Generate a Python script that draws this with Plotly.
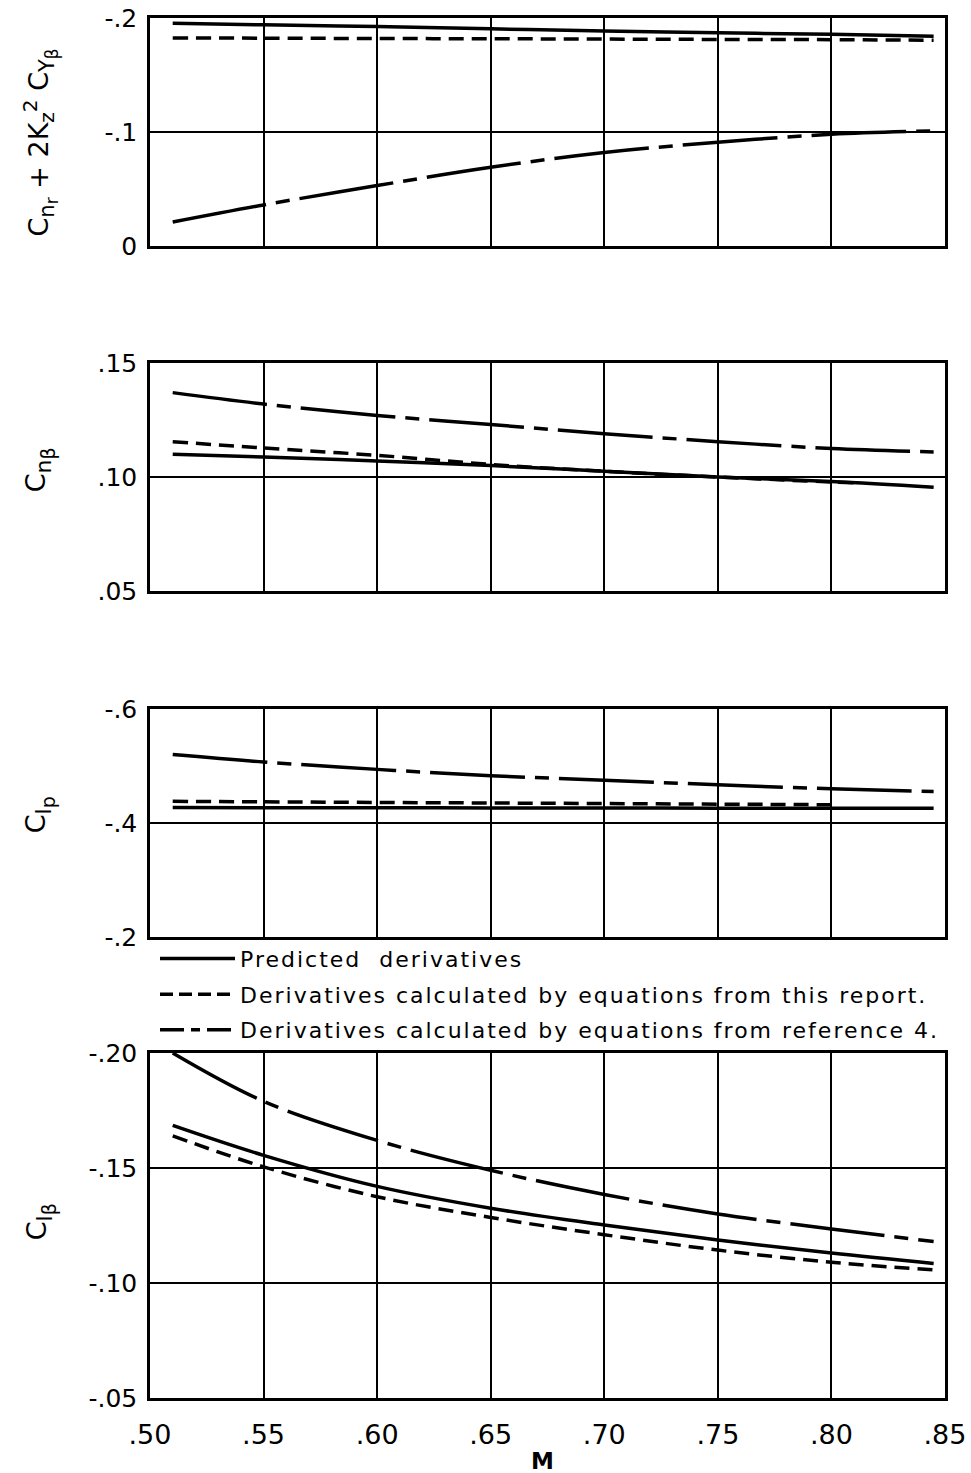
import plotly.graph_objects as go

# Mach number stations along each curve
M = [0.51, 0.55, 0.60, 0.65, 0.70, 0.75, 0.80, 0.845]
M_nb_this = [0.51, 0.55, 0.60, 0.65, 0.70, 0.75, 0.80, 0.81]
M_lp_this = [0.51, 0.55, 0.60, 0.65, 0.70, 0.75, 0.80]

# Cn_r + 2 Kz^2 CY_beta
cnr_pred = [-0.1955, -0.194, -0.1925, -0.1905, -0.1885, -0.187, -0.1857, -0.184]
cnr_this = [-0.1825, -0.1823, -0.182, -0.1818, -0.1815, -0.1812, -0.181, -0.1805]
cnr_ref4 = [-0.021, -0.036, -0.053, -0.069, -0.082, -0.091, -0.098, -0.101]

# Cn_beta
cnb_pred = [0.110, 0.1088, 0.107, 0.105, 0.1025, 0.100, 0.098, 0.0955]
cnb_this = [0.1155, 0.1127, 0.1095, 0.1055, 0.1025, 0.100, 0.0978, 0.0975]
cnb_ref4 = [0.137, 0.132, 0.127, 0.123, 0.119, 0.1155, 0.1125, 0.111]

# Cl_p
clp_pred = [-0.427, -0.4268, -0.4266, -0.4264, -0.4262, -0.426, -0.426, -0.426]
clp_this = [-0.438, -0.437, -0.436, -0.435, -0.434, -0.433, -0.432]
clp_ref4 = [-0.520, -0.507, -0.494, -0.483, -0.475, -0.467, -0.460, -0.455]

# Cl_beta
clb_pred = [-0.1685, -0.1555, -0.142, -0.1325, -0.1252, -0.1187, -0.113, -0.1085]
clb_this = [-0.164, -0.1505, -0.1375, -0.1285, -0.121, -0.1143, -0.109, -0.1057]
clb_ref4 = [-0.200, -0.179, -0.162, -0.149, -0.1385, -0.130, -0.1235, -0.118]

x_ticks = [0.50, 0.55, 0.60, 0.65, 0.70, 0.75, 0.80, 0.85]
x_ticktext = [".50", ".55", ".60", ".65", ".70", ".75", ".80", ".85"]

series_names = [
    "Predicted  derivatives",
    "Derivatives calculated by equations from this report.",
    "Derivatives calculated by equations from reference 4.",
]

FONT = "DejaVu Sans"
LW = 3.5
DASH_THIS = "15px,8px"
DASH_REF4 = "95px,10px,14px,10px"

fig = go.Figure()

panels = [
    ("x", "y", (M, cnr_pred), (M, cnr_this), (M, cnr_ref4)),
    ("x2", "y2", (M, cnb_pred), (M_nb_this, cnb_this), (M, cnb_ref4)),
    ("x3", "y3", (M, clp_pred), (M_lp_this, clp_this), (M, clp_ref4)),
    ("x4", "y4", (M, clb_pred), (M, clb_this), (M, clb_ref4)),
]

for xa, ya, pred, this, ref4 in panels:
    fig.add_trace(go.Scatter(x=pred[0], y=pred[1], xaxis=xa, yaxis=ya, mode="lines",
                             line=dict(color="black", width=LW, shape="spline"),
                             legendgroup="pred", showlegend=False))
    fig.add_trace(go.Scatter(x=this[0], y=this[1], xaxis=xa, yaxis=ya, mode="lines",
                             line=dict(color="black", width=LW, dash=DASH_THIS, shape="spline"),
                             legendgroup="this", showlegend=False))
    fig.add_trace(go.Scatter(x=ref4[0], y=ref4[1], xaxis=xa, yaxis=ya, mode="lines",
                             line=dict(color="black", width=LW, dash=DASH_REF4, shape="spline"),
                             legendgroup="ref4", showlegend=False))

# legend keys
legend_dashes = ["solid", "13px,6px", "24px,7px,9px,7px"]
for name, dash, grp in zip(series_names, legend_dashes, ["pred", "this", "ref4"]):
    fig.add_trace(go.Scatter(x=[None], y=[None], mode="lines",
                             name="<span style='letter-spacing:2px'>" + name + "</span>",
                             line=dict(color="black", width=LW, dash=dash),
                             legendgroup=grp, showlegend=True))

# plot area in pixels: x 150..945, y 18..1398 (1380 px tall)
domains = {
    "y": [0.8348, 1.0],
    "y2": [0.5848, 0.75],
    "y3": [0.3341, 0.4993],
    "y4": [0.0, 0.25],
}
y_axes = {
    "y": dict(range=[0, -0.2], tickvals=[-0.2, -0.1, 0], ticktext=["-.2", "-.1", "0"]),
    "y2": dict(range=[0.05, 0.15], tickvals=[0.05, 0.10, 0.15], ticktext=[".05", ".10", ".15"]),
    "y3": dict(range=[-0.2, -0.6], tickvals=[-0.6, -0.4, -0.2], ticktext=["-.6", "-.4", "-.2"]),
    "y4": dict(range=[-0.05, -0.20], tickvals=[-0.20, -0.15, -0.10, -0.05],
               ticktext=["-.20", "-.15", "-.10", "-.05"]),
}

axis_common = dict(showline=True, mirror=True, linecolor="black", linewidth=2.5,
                   showgrid=True, gridcolor="black", zeroline=False, ticks="",
                   automargin=False)

layout = dict(
    width=971, height=1473, autosize=False,
    margin=dict(l=150, r=26, t=18, b=75, autoexpand=False),
    paper_bgcolor="white", plot_bgcolor="white",
    font=dict(family=FONT, color="black"),
    showlegend=True,
    legend=dict(x=0.0063, y=0.3335, xanchor="left", yanchor="top",
                font=dict(family=FONT, size=22, color="black"),
                itemwidth=75, tracegroupgap=4, bgcolor="rgba(0,0,0,0)",
                itemclick=False, itemdoubleclick=False),
)

for i, ya in enumerate(["y", "y2", "y3", "y4"]):
    n = "" if i == 0 else str(i + 1)
    layout["xaxis" + n] = dict(axis_common, domain=[0, 1], range=[0.5, 0.85],
                               tickvals=x_ticks, ticktext=x_ticktext,
                               showticklabels=(i == 3), anchor=ya, gridwidth=2,
                               tickfont=dict(family=FONT, size=27, color="black"),
                               ticklabelstandoff=11)
    layout["yaxis" + n] = dict(axis_common, domain=domains[ya], anchor="x" + n,
                               gridwidth=1.6, ticklabelstandoff=5,
                               tickfont=dict(family=FONT, size=25, color="black"),
                               **y_axes[ya])

fig.update_layout(**layout)


def sub(t, px):
    return f"<sub><span style='font-size:{px}px'>{t}</span></sub>"


def sub2(t, px, t2, px2):
    return (f"<sub><span style='font-size:{px}px'>{t}</span>"
            f"<sub><span style='font-size:{px2}px'>{t2}</span></sub></sub>")


titles = [
    ("C" + sub2("n", 21, "r", 17) + " + 2K" + sub("z", 20)
     + "<sup><span style='font-size:20px'>2</span></sup> C" + sub2("Y", 21, "β", 17), 0.910),
    ("C" + sub2("n", 22, "β", 19), 0.6725),
    ("C" + sub2("l", 22, "p", 19), 0.4225),
    ("C" + sub2("l", 22, "β", 19), 0.1275),
]
for text, yc in titles:
    fig.add_annotation(text=text, xref="paper", yref="paper", x=-0.138, y=yc,
                       xanchor="center", yanchor="middle", textangle=-90, showarrow=False,
                       font=dict(family=FONT, size=27, color="black"))

fig.add_annotation(text="<b>M</b>", xref="paper", yref="paper", x=0.494, y=-0.0457,
                   xanchor="center", yanchor="middle", showarrow=False,
                   font=dict(family=FONT, size=23, color="black"))

fig.write_html("out.html")
